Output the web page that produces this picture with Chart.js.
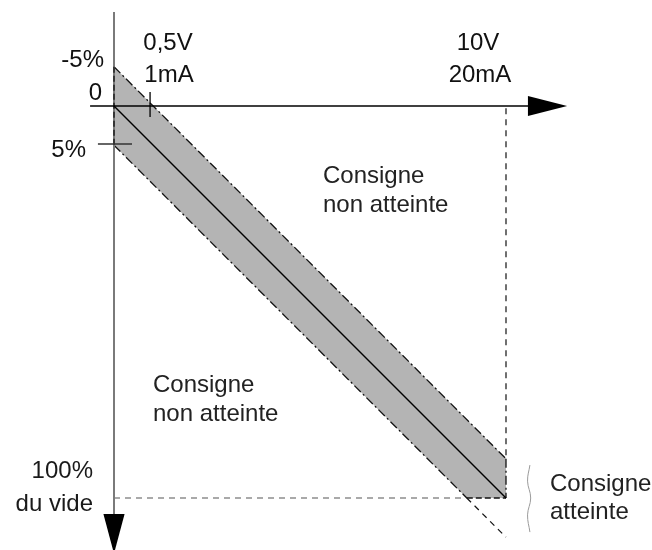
<!DOCTYPE html>
<html>
<head>
<meta charset="utf-8">
<script src="https://cdn.jsdelivr.net/npm/chart.js@4.4.1/dist/chart.umd.min.js"></script>
<style>
  html, body { margin: 0; padding: 0; background: #ffffff; }
  #wrap { width: 652px; height: 550px; }
</style>
</head>
<body>
<div id="wrap"><canvas id="c" width="652" height="550"></canvas></div>
<script>
// ---- data (x: signal in scale units 0..10 V, y: % of vacuum 0..100, downwards) ----
const setpointX = [0, 10];
const setpointY = [0, 100];
const bandUpperX = [0, 10];
const bandUpperY = [-10, 90];
const bandLowerX = [0, 9];
const bandLowerY = [10, 100];
const bandPolyX = [0, 10, 10, 9, 0];
const bandPolyY = [-10, 90, 100, 100, 10];
const bandLeftX = [0, 0];
const bandLeftY = [-10, 10];
const bandRightX = [10, 10];
const bandRightY = [90, 100];
const bandBottomX = [9, 10];
const bandBottomY = [100, 100];
const lowerExtX = [9, 10];
const lowerExtY = [100, 110];
const fullVacuumX = [0, 9];
const fullVacuumY = [100, 100];
const fullSignalX = [10, 10];
const fullSignalY = [0.6, 90];
const xAxisX = [-0.61, 10.6];
const xAxisY = [0, 0];
const xArrowX = [10.56, 11.56, 10.56];
const xArrowY = [-2.55, 0, 2.55];
const yAxisX = [0, 0];
const yAxisY = [-24, 104.5];
const yArrowX = [-0.27, 0.27, 0];
const yArrowY = [104.1, 104.1, 114.2];
const tick05X = [0.92, 0.92];
const tick05Y = [-3.6, 2.8];
const tick5X = [-0.41, 0.46];
const tick5Y = [9.7, 9.7];
const braceX = [10.61, 10.55, 10.63, 10.55, 10.61];
const braceY = [91.6, 95.7, 100, 104.3, 108.7];

const labelMinus5 = '-5%';
const labelZero = '0';
const labelPlus5 = '5%';
const labelLow = ['0,5V', '1mA'];
const labelHigh = ['10V', '20mA'];
const labelFull = ['100%', 'du vide'];
const textNotReached = ['Consigne', 'non atteinte'];
const textReached = ['Consigne', 'atteinte'];

function pts(xs, ys) { return xs.map((x, i) => ({ x: x, y: ys[i] })); }

function lineDs(xs, ys, color, width, dash, order) {
  return {
    data: pts(xs, ys), showLine: true, pointRadius: 0, pointHoverRadius: 0,
    borderColor: color, borderWidth: width, borderDash: dash || [],
    fill: false, tension: 0, order: order || 1, clip: false
  };
}
function shapeDs(xs, ys, color, order) {
  return {
    data: pts(xs, ys), showLine: true, pointRadius: 0, pointHoverRadius: 0,
    borderColor: 'rgba(0,0,0,0)', borderWidth: 0.0001, backgroundColor: color,
    fill: 'shape', tension: 0, order: order || 5, clip: false
  };
}

const datasets = [
  shapeDs(bandPolyX, bandPolyY, '#b4b4b4', 10),
  lineDs(fullVacuumX, fullVacuumY, '#555555', 1.2, [6, 5], 6),
  lineDs(fullSignalX, fullSignalY, '#111111', 1.2, [6, 5], 6),
  lineDs(lowerExtX, lowerExtY, '#111111', 1.2, [6, 5], 6),
  lineDs(bandUpperX, bandUpperY, '#111111', 1.3, [9, 3, 2, 3], 4),
  lineDs(bandLowerX, bandLowerY, '#111111', 1.3, [9, 3, 2, 3], 4),
  lineDs(bandRightX, bandRightY, '#111111', 1.3, [9, 3, 2, 3], 4),
  lineDs(bandBottomX, bandBottomY, '#111111', 1.3, [6, 3], 4),
  lineDs(yAxisX, yAxisY, '#7a7a7a', 2, [], 3),
  lineDs(bandLeftX, bandLeftY, '#111111', 1.3, [6, 3], 2),
  lineDs(setpointX, setpointY, '#000000', 1.5, [], 1),
  lineDs(xAxisX, xAxisY, '#000000', 1.6, [], 1),
  shapeDs(xArrowX, xArrowY, '#000000', 1),
  shapeDs(yArrowX, yArrowY, '#000000', 1),
  lineDs(tick05X, tick05Y, '#000000', 1.3, [], 1),
  lineDs(tick5X, tick5Y, '#333333', 1.5, [], 1),
  {
    data: pts(braceX, braceY), showLine: true, pointRadius: 0, borderColor: '#9a9a9a',
    borderWidth: 1, tension: 0.4, fill: false, order: 1, clip: false
  }
];

const textPlugin = {
  id: 'diagramText',
  afterDatasetsDraw(chart) {
    const ctx = chart.ctx;
    ctx.save();
    ctx.textBaseline = 'alphabetic';
    const big = '24px "Liberation Sans", Arial, sans-serif';
    const mid = '24px "Liberation Sans", Arial, sans-serif';
    function put(t, x, y, align, font, color) {
      ctx.font = font; ctx.textAlign = align; ctx.fillStyle = color || '#111111';
      ctx.fillText(t, x, y);
    }
    put(labelMinus5, 104, 67, 'right', big);
    put(labelZero, 102, 100, 'right', big);
    put(labelPlus5, 86, 157, 'right', big);
    put(labelLow[0], 168, 50, 'center', big);
    put(labelLow[1], 169, 82, 'center', big);
    put(labelHigh[0], 478, 50, 'center', big);
    put(labelHigh[1], 480, 82, 'center', big);
    put(labelFull[0], 93, 478, 'right', big, '#1a1a1a');
    put(labelFull[1], 93, 511, 'right', big, '#1a1a1a');
    put(textNotReached[0], 323, 183, 'left', mid, '#222222');
    put(textNotReached[1], 323, 212, 'left', mid, '#222222');
    put(textNotReached[0], 153, 392, 'left', mid, '#222222');
    put(textNotReached[1], 153, 421, 'left', mid, '#222222');
    put(textReached[0], 550, 491, 'left', mid, '#222222');
    put(textReached[1], 550, 519, 'left', mid, '#222222');
    ctx.restore();
  }
};

new Chart(document.getElementById('c'), {
  type: 'scatter',
  data: { datasets: datasets },
  options: {
    responsive: false,
    animation: false,
    devicePixelRatio: 1,
    layout: { padding: 0 },
    events: [],
    plugins: { legend: { display: false }, tooltip: { enabled: false } },
    scales: {
      x: { type: 'linear', display: false, min: -114 / 39.2, max: 538 / 39.2 },
      y: { type: 'linear', display: false, reverse: true, min: -106 / 3.92, max: 444 / 3.92 }
    }
  },
  plugins: [textPlugin]
});
</script>
</body>
</html>
